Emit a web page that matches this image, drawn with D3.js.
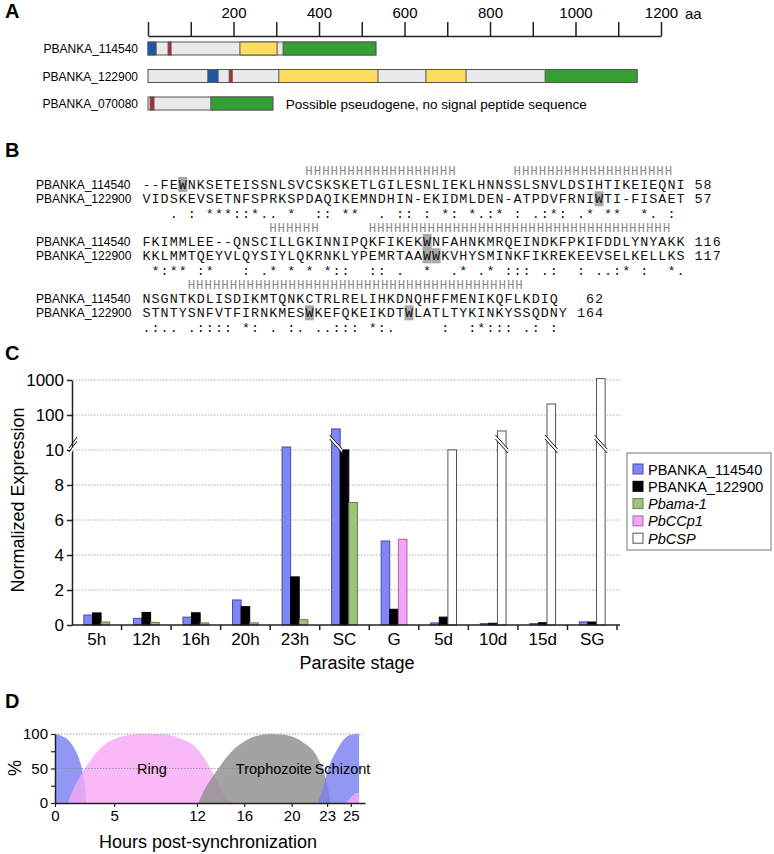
<!DOCTYPE html>
<html lang="en">
<head>
<meta charset="utf-8">
<title>PBANKA CSP-like genes</title>
<script src="https://cdn.jsdelivr.net/npm/d3@7"></script>
<style>
  body { margin: 0; background: #fff; }
  svg text { font-family: "Liberation Sans", Arial, sans-serif; }
  svg text.mono { font-family: "Liberation Mono", "Courier New", monospace; }
  .domain, .tick line { stroke: #222; }
</style>
</head>
<body>
<script>
// ---------- A: domain maps ----------
var aaTicks = [0, 100, 200, 300, 400, 500, 600, 700, 800, 900, 1000, 1100, 1200];
var aaLabels = [200, 400, 600, 800, 1000, 1200];
var genes = ["PBANKA_114540", "PBANKA_122900", "PBANKA_070080"];
var proteinLength = [533, 1144, 292];
// [gene index, start aa, end aa]
var signalPeptide = [[0, 0, 19], [1, 140, 164]];
var transmembrane = [[0, 47, 54], [1, 190, 197], [2, 5, 14]];
var yellowDomain = [[0, 215, 302], [1, 306, 538], [1, 650, 744]];
var greenDomain = [[0, 316, 533], [1, 929, 1144], [2, 147, 292]];
var pseudoNote = "Possible pseudogene, no signal peptide sequence";

// ---------- B: alignment ----------
var alnNames = ["PBANKA_114540", "PBANKA_122900"];
var alnSeq1 = [
  "--FEWNKSETEISSNLSVCSKSKETLGILESNLIEKLHNNSSLSNVLDSIHTIKEIEQNI",
  "FKIMMLEE--QNSCILLGKINNIPQKFIKEKWNFAHNKMRQEINDKFPKIFDDLYNYAKK",
  "NSGNTKDLISDIKMTQNKCTRLRELIHKDNQHFFMENIKQFLKDIQ"
];
var alnSeq2 = [
  "VIDSKEVSETNFSPRKSPDAQIKEMNDHIN-EKIDMLDEN-ATPDVFRNIWTI-FISAET",
  "KKLMMTQEYVLQYSIYLQKRNKLYPEMRTAAWWKVHYSMINKFIKREKEEVSELKELLKS",
  "STNTYSNFVTFIRNKMESWKEFQKEIKDTWLATLTYKINKYSSQDNY"
];
var alnCons = [
  "   . : ***::*.. *  :: **  . :: : *: *.:* : .:*: .* **  *. : ",
  " *:** :*   : .* * * *::  :: .  *  .* .* ::: .:  : ..:* :  *.",
  ".:.. .:::: *: . :. ..::: *:.     :  :*::: .: :"
];
var alnEnd1 = [58, 116, 62];
var alnEnd2 = [57, 117, 164];
var alnEndCol1 = [61, 61, 49];
var alnEndCol2 = [61, 61, 48];
// helix runs per block: [start column, number of H]
var helixRuns = [[[18, 18], [41, 19]], [[14, 6], [25, 36]], [[5, 40]]];
// highlighted tryptophan columns
var trp1 = [[4], [31], []];
var trp2 = [[50], [31, 32], [18, 29]];

// ---------- C: expression ----------
var stages = ["5h", "12h", "16h", "20h", "23h", "SC", "G", "5d", "10d", "15d", "SG"];
var expr114540 = [0.57, 0.38, 0.45, 1.43, 12.2, 40, 4.8, 0.12, 0.08, 0.08, 0.18];
var expr122900 = [0.69, 0.72, 0.70, 1.05, 2.75, 10.05, 0.9, 0.45, 0.1, 0.13, 0.17];
var exprMarker = [0.17, 0.15, 0.12, 0.12, 0.3, 7.0, 4.9, 10.1, 35, 206, 1100];
var markerOf = ["Pbama-1", "Pbama-1", "Pbama-1", "Pbama-1", "Pbama-1", "Pbama-1",
                "PbCCp1", "PbCSP", "PbCSP", "PbCSP", "PbCSP"];
var legendLabels = ["PBANKA_114540", "PBANKA_122900", "Pbama-1", "PbCCp1", "PbCSP"];
var linearTicks = [0, 2, 4, 6, 8, 10];
var logTicks = [100, 1000];

// ---------- D: stage composition (hour, %) ----------
var schizontA = [[0, 100], [0.5, 98], [1.0, 93], [1.5, 83], [1.9, 70], [2.2, 55], [2.4, 40], [2.55, 22], [2.65, 0]];
var ringA = [[1.1, 0], [1.4, 14], [2.1, 38], [2.8, 57], [3.8, 79], [5.2, 94], [7.2, 100], [8.9, 100],
             [10.5, 94], [12.0, 79], [12.9, 57], [13.5, 38], [14.2, 14], [15.0, 0]];
var trophozoite = [[12.1, 0], [12.6, 18], [13.2, 35], [13.8, 50], [14.4, 64], [15.0, 76], [15.9, 88],
                   [17.0, 97], [18.2, 100], [19.4, 99], [20.4, 94], [21.2, 85], [21.8, 76], [22.3, 62],
                   [22.6, 50], [23.0, 28], [23.3, 0]];
var schizontB = [[22.2, 0], [22.6, 20], [23.1, 50], [23.8, 76], [24.4, 92], [25.0, 99], [25.7, 100]];
var ringB = [[24.6, 0], [25.0, 8], [25.4, 14], [25.7, 15]];
var hourTicks = [0, 5, 12, 16, 20, 23, 25];
var pctTicks = [0, 25, 50, 75, 100];
var pctLabels = [0, 50, 100];
var stageNames = [["Ring", 8.2], ["Trophozoite", 18.5], ["Schizont", 24.3]];

var svg = d3.select("body").append("svg")
  .attr("width", 774).attr("height", 854);

// panel letters
[["A", 18], ["B", 157], ["C", 360], ["D", 708]].forEach(function(p) {
  svg.append("text").attr("x", 5).attr("y", p[1]).text(p[0])
    .attr("font-size", "20px").attr("font-weight", "bold");
});

// ===== Panel A =====
var xA = d3.scaleLinear().domain([0, 1200]).range([148, 661]);
var yA = d3.scalePoint().domain(genes).range([48.5, 103.5]);
var barH = 13;

var axA = svg.append("g").attr("transform", "translate(0,36)")
  .call(d3.axisTop(xA).tickValues(aaTicks).tickSize(14).tickSizeOuter(0).tickPadding(4)
    .tickFormat(function(d) { return aaLabels.indexOf(d) >= 0 ? d : ""; }));
axA.selectAll("path, line").attr("stroke", "#333").attr("stroke-width", 1.5);
axA.selectAll("text").attr("font-size", "15px");
svg.append("text").attr("x", 685).attr("y", 19).attr("font-size", "15px").text("aa");

genes.forEach(function(g, i) {
  svg.append("text").attr("x", 138).attr("y", yA(g) + 4.5)
    .attr("text-anchor", "end").attr("font-size", "12px").text(g);
  svg.append("rect").attr("x", xA(0)).attr("y", yA(g) - barH / 2)
    .attr("width", xA(proteinLength[i]) - xA(0)).attr("height", barH)
    .attr("fill", "#e9e9e9").attr("stroke", "#555").attr("stroke-width", 1);
});

function drawDomains(list, fill) {
  svg.append("g").selectAll("rect").data(list).join("rect")
    .attr("x", function(d) { return xA(d[1]); })
    .attr("y", function(d) { return yA(genes[d[0]]) - barH / 2; })
    .attr("width", function(d) { return xA(d[2]) - xA(d[1]); })
    .attr("height", barH)
    .attr("fill", fill).attr("stroke", "#555").attr("stroke-width", 1);
}
drawDomains(signalPeptide, "#1d56a6");
drawDomains(transmembrane, "#c4232b");
drawDomains(yellowDomain, "#fedc5c");
drawDomains(greenDomain, "#34a034");

svg.append("text").attr("x", xA(292) + 13).attr("y", yA(genes[2]) + 5)
  .attr("font-size", "13.5px").text(pseudoNote);

// ===== Panel B =====
var seqX = 142, cw = 9.05, fsMono = 13.4, hPitch = 8.4, fsH = 12.5;
var blockTop = [170, 227, 284], rowGap = 14.4;

function monoText(g, str, x0, pitch, fs, y, fill) {
  var adv = 0.6 * fs;
  var xs = str.split("").map(function(c, i) { return (x0 + i * pitch + (pitch - adv) / 2).toFixed(2); });
  g.append("text").attr("class", "mono").attr("x", xs.join(" ")).attr("y", y)
    .attr("font-size", fs + "px").style("fill", fill)
    .attr("xml:space", "preserve").style("white-space", "pre").text(str);
}

var gB = svg.append("g");
blockTop.forEach(function(t, b) {
  var r1 = t + rowGap, r2 = t + 2 * rowGap, rc = r2 + 15.6;
  // highlights
  trp1[b].forEach(function(c) {
    gB.append("rect").attr("x", seqX + c * cw).attr("y", r1 - 7.5).attr("width", cw).attr("height", 15).attr("fill", "#a8a8a8");
  });
  trp2[b].forEach(function(c) {
    gB.append("rect").attr("x", seqX + c * cw).attr("y", r2 - 7.5).attr("width", cw).attr("height", 15).attr("fill", "#a8a8a8");
  });
  helixRuns[b].forEach(function(h) {
    monoText(gB, "H".repeat(h[1]), seqX + h[0] * cw, hPitch, fsH, t + 4.5, "#8a8a8a");
  });
  gB.append("text").attr("x", 36).attr("y", r1 + 4.5).attr("font-size", "12px").text(alnNames[0]);
  gB.append("text").attr("x", 36).attr("y", r2 + 4.5).attr("font-size", "12px").text(alnNames[1]);
  monoText(gB, alnSeq1[b], seqX, cw, fsMono, r1 + 4.5, "#111");
  monoText(gB, alnSeq2[b], seqX, cw, fsMono, r2 + 4.5, "#111");
  monoText(gB, String(alnEnd1[b]), seqX + alnEndCol1[b] * cw, cw, fsMono, r1 + 4.5, "#111");
  monoText(gB, String(alnEnd2[b]), seqX + alnEndCol2[b] * cw, cw, fsMono, r2 + 4.5, "#111");
  monoText(gB, alnCons[b], seqX, cw, fsMono, rc + 3.5, "#111");
});

// ===== Panel C =====
var xC = d3.scaleBand().domain(stages).range([72, 617]);
var yLow = d3.scaleLinear().domain([0, 10]).range([625, 450]);
var yHigh = d3.scaleLog().domain([10, 1000]).range([450, 380]);
function yC(v) { return v <= 10 ? yLow(v) : yHigh(v); }
var bw = 8.6;
var fills = ["#7f86f7", "#000000", "#9fc27c", "#f8a4f6", "#ffffff"];
var strokes = ["#4a4c9c", "#000000", "#62804a", "#a565a3", "#555555"];

var gC = svg.append("g");
// gridlines
linearTicks.slice(1).concat(logTicks).forEach(function(v) {
  gC.append("line").attr("x1", 73).attr("x2", 620).attr("y1", yC(v)).attr("y2", yC(v))
    .attr("stroke", "#999").attr("stroke-width", 0.8).attr("stroke-dasharray", "1.5,1.5");
});

var bars = [];
stages.forEach(function(s, i) {
  bars.push({ s: s, slot: 0, v: expr114540[i], k: 0 });
  bars.push({ s: s, slot: 1, v: expr122900[i], k: 1 });
  bars.push({ s: s, slot: 2, v: exprMarker[i], k: legendLabels.indexOf(markerOf[i]) });
});
function barX(d) { return xC(d.s) + xC.bandwidth() / 2 - 1.5 * bw + d.slot * bw; }

gC.selectAll("rect.bar").data(bars).join("rect").attr("class", "bar")
  .attr("x", barX)
  .attr("y", function(d) { return yC(d.v); })
  .attr("width", bw)
  .attr("height", function(d) { return yC(0) - yC(d.v); })
  .attr("fill", function(d) { return fills[d.k]; })
  .attr("stroke", function(d) { return strokes[d.k]; })
  .attr("stroke-width", 1);

// break marks on tall bars
var breakY = 443;
bars.filter(function(d) { return d.v > 20; }).forEach(function(d) {
  var x0 = barX(d) - 2, x1 = barX(d) + bw + 2;
  gC.append("polygon")
    .attr("points", [[x0, breakY - 8], [x1, breakY + 6], [x1, breakY + 10], [x0, breakY - 4]].join(" "))
    .attr("fill", "#fff");
  [0, 4].forEach(function(o) {
    gC.append("line").attr("x1", x0).attr("y1", breakY - 8 + o).attr("x2", x1).attr("y2", breakY + 6 + o)
      .attr("stroke", "#111").attr("stroke-width", 1);
  });
});

// axes
var axLow = gC.append("g").attr("transform", "translate(72,0)")
  .call(d3.axisLeft(yLow).tickValues(linearTicks).tickSize(5).tickSizeOuter(0).tickPadding(3));
var axHigh = gC.append("g").attr("transform", "translate(72,0)")
  .call(d3.axisLeft(yHigh).tickValues(logTicks).tickSize(5).tickSizeOuter(0).tickPadding(3)
    .tickFormat(d3.format("d")));
gC.selectAll(".domain").attr("stroke-width", 1.5);
gC.selectAll(".tick line").attr("stroke-width", 1.5);
[axLow, axHigh].forEach(function(a) {
  a.selectAll("text").attr("font-size", "17px");
});
// axis break
gC.append("polygon").attr("points", [[69, 452], [77, 441], [77, 445], [69, 456]].join(" ")).attr("fill", "#fff");
[0, 4].forEach(function(o) {
  gC.append("line").attr("x1", 69).attr("y1", 452 + o - 4).attr("x2", 77).attr("y2", 441 + o - 4)
    .attr("stroke", "#111").attr("stroke-width", 1);
});

var axX = gC.append("g").attr("transform", "translate(0,625)")
  .call(d3.axisBottom(xC).tickSize(0).tickPadding(8).tickSizeOuter(0));
axX.select(".domain").attr("stroke-width", 1.5).attr("d", "M72,0H620");
axX.selectAll("text").attr("font-size", "17px");
stages.forEach(function(s) {
  gC.append("line").attr("x1", xC(s) + xC.step()).attr("x2", xC(s) + xC.step())
    .attr("y1", 625).attr("y2", 630).attr("stroke", "#222").attr("stroke-width", 1.5);
});

gC.append("text").attr("x", 357).attr("y", 669).attr("text-anchor", "middle")
  .attr("font-size", "18px").text("Parasite stage");
gC.append("text").attr("transform", "translate(24,500) rotate(-90)").attr("text-anchor", "middle")
  .attr("font-size", "18px").text("Normalized Expression");

// legend
var lg = gC.append("g").attr("transform", "translate(627,453)");
lg.append("rect").attr("width", 144).attr("height", 97).attr("fill", "#fff")
  .attr("stroke", "#777").attr("stroke-width", 1);
legendLabels.forEach(function(l, i) {
  var cy = 16 + i * 17.3;
  lg.append("rect").attr("x", 6).attr("y", cy - 5).attr("width", 10).attr("height", 10)
    .attr("fill", fills[i]).attr("stroke", strokes[i]).attr("stroke-width", 1);
  lg.append("text").attr("x", 21).attr("y", cy + 5.5).attr("font-size", "14.5px")
    .attr("font-style", i >= 2 ? "italic" : "normal").text(l);
});

// ===== Panel D =====
var xD = d3.scaleLinear().domain([0, 26.2]).range([55, 365]);
var yD = d3.scaleLinear().domain([0, 100]).range([803, 734]);
var gD = svg.append("g");
var area = d3.area().x(function(d) { return xD(d[0]); }).y0(yD(0))
  .y1(function(d) { return yD(d[1]); }).curve(d3.curveMonotoneX);
[[schizontA, "#7a80f2"], [ringA, "#f6a9f4"], [trophozoite, "#8f8f8f"],
 [schizontB, "#7a80f2"], [ringB, "#f6a9f4"]].forEach(function(a) {
  gD.append("path").attr("d", area(a[0])).attr("fill", a[1]).attr("fill-opacity", 0.82);
});
[50, 100].forEach(function(v) {
  gD.append("line").attr("x1", 55).attr("x2", 362).attr("y1", yD(v)).attr("y2", yD(v))
    .attr("stroke", "#888").attr("stroke-width", 0.8).attr("stroke-dasharray", "1.5,1.5");
});
stageNames.forEach(function(s) {
  gD.append("text").attr("x", xD(s[1])).attr("y", yD(50) + 5).attr("text-anchor", "middle")
    .attr("font-size", "14.5px").text(s[0]);
});
var axDy = gD.append("g").attr("transform", "translate(55,0)")
  .call(d3.axisLeft(yD).tickValues(pctTicks).tickSize(4).tickSizeOuter(0).tickPadding(3)
    .tickFormat(function(d) { return pctLabels.indexOf(d) >= 0 ? d : ""; }));
var axDx = gD.append("g").attr("transform", "translate(0,803)")
  .call(d3.axisBottom(xD).tickValues(hourTicks).tickSize(4).tickSizeOuter(0).tickPadding(3));
gD.selectAll(".domain").attr("stroke-width", 1.5);
gD.selectAll(".tick line").attr("stroke-width", 1.2);
gD.selectAll(".tick text").attr("font-size", "15px");
gD.append("text").attr("transform", "translate(21,768) rotate(-90)").attr("text-anchor", "middle")
  .attr("font-size", "18px").text("%");
gD.append("text").attr("x", 208).attr("y", 848).attr("text-anchor", "middle")
  .attr("font-size", "18px").text("Hours post-synchronization");
</script>
</body>
</html>
